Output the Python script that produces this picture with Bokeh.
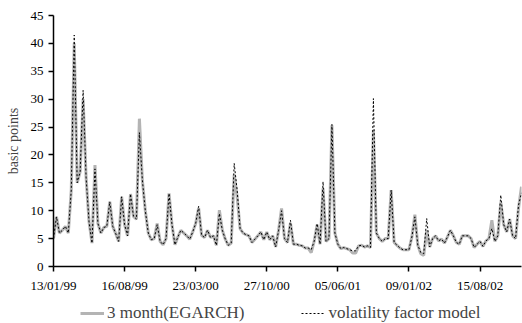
from bokeh.plotting import figure
from bokeh.layouts import column
from bokeh.models import FixedTicker, Legend, LegendItem, ColumnDataSource
from bokeh.embed import file_html
from bokeh.resources import INLINE

tick_pos = [0, 24, 48, 72, 96, 120, 144]
tick_labels = ["13/01/99", "16/08/99", "23/03/00", "27/10/00", "05/06/01", "09/01/02", "15/08/02"]
y_ticks = [0, 5, 10, 15, 20, 25, 30, 35, 40, 45]

egarch = [5.0, 8.9, 6.0, 6.5, 7.2, 6.0, 13.7, 40.0, 15.0, 17.0,
          30.0, 16.0, 8.0, 4.2, 18.2, 7.7, 6.0, 7.0, 7.2, 11.6,
          7.2, 5.9, 4.5, 12.5, 7.5, 5.5, 13.0, 9.0, 8.5, 26.5,
          15.5, 10.0, 6.0, 4.8, 5.0, 7.7, 4.5, 3.9, 5.0, 13.1,
          7.5, 3.9, 5.3, 6.5, 6.0, 5.5, 4.9, 6.2, 7.7, 10.5,
          5.6, 5.2, 6.5, 5.2, 5.5, 3.8, 10.1, 6.5, 4.9, 3.8,
          4.2, 16.5, 12.5, 6.8, 6.0, 5.7, 5.5, 4.3, 4.9, 5.5,
          6.2, 4.8, 6.2, 4.8, 5.5, 3.5, 6.5, 10.4, 5.0, 4.3,
          7.8, 4.0, 4.0, 3.8, 3.7, 3.3, 3.3, 2.5, 4.5, 7.5,
          4.0, 14.0, 4.5, 5.0, 25.3, 6.0, 4.0, 3.2, 3.4, 3.2,
          3.0, 2.4, 2.4, 3.7, 3.8, 3.5, 3.7, 3.4, 24.5, 6.0,
          5.0, 4.5, 5.0, 5.0, 13.7, 4.3, 3.8, 3.3, 3.0, 3.0,
          3.0, 5.3, 9.3, 3.8, 2.3, 2.0, 6.5, 3.5, 5.0, 5.5,
          4.6, 4.9, 4.2, 5.3, 6.5, 5.5, 4.3, 4.0, 5.5, 5.5,
          5.5, 5.0, 3.4, 4.0, 4.5, 3.6, 4.6, 5.0, 8.3, 4.5,
          5.5, 11.5, 7.5, 6.2, 8.5, 5.5, 5.0, 10.5, 14.3]

vfm = [5.0, 8.9, 6.0, 6.5, 7.2, 6.0, 13.7, 41.5, 15.0, 17.0,
       31.6, 16.0, 8.0, 4.2, 17.5, 7.7, 6.0, 7.0, 7.2, 11.6,
       7.2, 5.9, 4.5, 12.5, 7.5, 5.5, 13.0, 9.0, 8.5, 24.0,
       15.5, 10.0, 6.0, 4.8, 5.0, 7.5, 4.5, 3.9, 5.0, 13.1,
       7.5, 3.9, 5.3, 6.5, 6.0, 5.5, 4.9, 6.2, 7.7, 10.8,
       5.6, 5.2, 6.5, 5.2, 5.5, 3.8, 9.5, 6.5, 4.9, 3.8,
       4.2, 18.5, 13.7, 6.8, 6.0, 5.7, 5.5, 4.3, 4.9, 5.5,
       6.2, 4.8, 6.2, 4.8, 5.5, 3.5, 6.5, 10.0, 5.0, 4.3,
       8.3, 4.0, 4.0, 3.8, 3.7, 3.3, 3.3, 3.0, 4.5, 7.7,
       4.0, 15.2, 4.5, 5.0, 25.5, 6.0, 4.0, 3.2, 3.4, 3.2,
       3.0, 2.8, 2.8, 3.7, 3.8, 3.5, 3.7, 3.4, 30.1, 6.0,
       5.0, 4.5, 5.0, 5.0, 13.7, 4.3, 3.8, 3.3, 3.0, 3.0,
       3.0, 5.3, 8.9, 3.8, 2.5, 2.3, 8.6, 3.5, 5.0, 5.5,
       4.6, 4.9, 4.2, 5.3, 6.5, 5.5, 4.3, 4.0, 5.5, 5.5,
       5.5, 5.0, 3.4, 4.0, 4.5, 3.6, 4.6, 5.0, 6.8, 4.5,
       5.5, 12.8, 7.5, 6.2, 8.5, 5.5, 5.0, 11.0, 13.2]

series_names = ["3 month(EGARCH)", "volatility factor model"]

idx = list(range(len(egarch)))
src = ColumnDataSource(dict(x=idx, egarch=egarch, vfm=vfm))

FONT = "Liberation Serif"
GRAY = "#b4b4b4"

p = figure(width=522, height=298, x_range=(0, len(idx) - 1), y_range=(0, 45),
           output_backend="svg", toolbar_location=None,
           min_border_left=53, min_border_right=1, min_border_top=15, min_border_bottom=32,
           background_fill_color="white", border_fill_color="white")
p.outline_line_color = None

p.line("x", "egarch", source=src, line_color=GRAY, line_width=3)
p.line("x", "vfm", source=src, line_color="black", line_width=1, line_dash="2 2")

# axes
p.xaxis.ticker = FixedTicker(ticks=tick_pos)
p.xaxis.major_label_overrides = {t: l for t, l in zip(tick_pos, tick_labels)}
p.yaxis.ticker = FixedTicker(ticks=y_ticks)
for ax in (p.xaxis[0], p.yaxis[0]):
    ax.axis_line_color = "black"
    ax.axis_line_width = 1.5
    ax.major_tick_line_color = "black"
    ax.major_tick_line_width = 1.5
    ax.major_tick_out = 5
    ax.major_tick_in = 0
    ax.minor_tick_line_color = None
    ax.major_label_text_font = FONT
    ax.major_label_text_font_size = "13px"
    ax.major_label_text_color = "black"
p.xaxis.major_label_standoff = 6
p.yaxis.major_label_standoff = 5
p.yaxis.axis_label = "basic points"
p.yaxis.axis_label_text_font = FONT
p.yaxis.axis_label_text_font_size = "14px"
p.yaxis.axis_label_text_font_style = "normal"
p.yaxis.axis_label_standoff = 7

p.xgrid.visible = False
p.ygrid.ticker = FixedTicker(ticks=[45])
p.ygrid.grid_line_color = "#808080"
p.ygrid.grid_line_width = 2

# legend strip below the chart
q = figure(width=522, height=25, x_range=(0, 1), y_range=(0, 1),
           x_axis_type=None, y_axis_type=None,
           output_backend="svg", toolbar_location=None, min_border=0,
           background_fill_color="white", border_fill_color="white")
q.outline_line_color = None
q.grid.visible = False
k1 = q.line([5, 6], [5, 6], line_color=GRAY, line_width=3)
k2 = q.line([5, 6], [5, 6], line_color="black", line_width=1, line_dash="2 2")
legend = Legend(items=[LegendItem(label=series_names[0], renderers=[k1]),
                       LegendItem(label=series_names[1], renderers=[k2])],
                orientation="horizontal", location=(27, 0),
                border_line_color=None, background_fill_alpha=0,
                label_text_font=FONT, label_text_font_size="17px",
                glyph_width=24, label_standoff=3, spacing=57, padding=2, margin=0)
q.add_layout(legend)

layout = column(p, q, spacing=0)
open("out.html", "w").write(file_html(layout, INLINE))
